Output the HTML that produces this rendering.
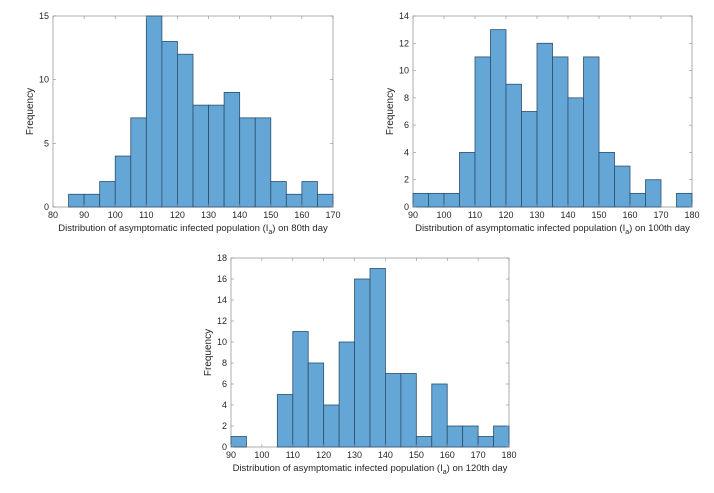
<!DOCTYPE html>
<html><head><meta charset="utf-8"><style>
body{margin:0;background:#fff;width:714px;height:488px;overflow:hidden}
svg text{font-family:"Liberation Sans",sans-serif;fill:#262626}
</style></head><body>
<svg id="s" width="714" height="488"></svg>
<script>
const edges1 = [85,90,95,100,105,110,115,120,125,130,135,140,145,150,155,160,165,170];
const counts1 = [1,1,2,4,7,15,13,12,8,8,9,7,7,2,1,2,1];
const xticks1 = [80,90,100,110,120,130,140,150,160,170];
const yticks1 = [0,5,10,15];
const edges2 = [90,95,100,105,110,115,120,125,130,135,140,145,150,155,160,165,170,175,180];
const counts2 = [1,1,1,4,11,13,9,7,12,11,8,11,4,3,1,2,0,1];
const xticks2 = [90,100,110,120,130,140,150,160,170,180];
const yticks2 = [0,2,4,6,8,10,12,14];
const edges3 = [90,95,100,105,110,115,120,125,130,135,140,145,150,155,160,165,170,175,180];
const counts3 = [1,0,0,5,11,8,4,10,16,17,7,7,1,6,2,2,1,2];
const xticks3 = [90,100,110,120,130,140,150,160,170,180];
const yticks3 = [0,2,4,6,8,10,12,14,16,18];
const NS="http://www.w3.org/2000/svg";
const svg=document.getElementById('s');
function mk(t,a,p){const e=document.createElementNS(NS,t);for(const k in a)e.setAttribute(k,a[k]);(p||svg).appendChild(e);return e;}
function chart(id,L,R,T,B,edges,counts,xt,yt,day){
  const g=mk('g',{});
  
  
  const x0=xt[0],x1=xt[xt.length-1],y1=yt[yt.length-1];
  const X=v=>L+(v-x0)/(x1-x0)*(R-L), Y=v=>B-v/y1*(B-T);
  mk('rect',{x:L,y:T,width:R-L,height:B-T,fill:'#fff',stroke:'#8a8a8a','stroke-width':0.7},g);
  for(let i=0;i<counts.length;i++){
    if(counts[i]<=0)continue;
    const r=mk('rect',{x:X(edges[i]),y:Y(counts[i]),width:X(edges[i+1])-X(edges[i]),height:B-Y(counts[i]),fill:'#64a6d6',stroke:'#2b4f6e','stroke-width':0.8},g);
    
    
  }
  xt.forEach(v=>{mk('line',{x1:X(v),x2:X(v),y1:B,y2:B-3,stroke:'#8a8a8a','stroke-width':0.6},g);mk('line',{x1:X(v),x2:X(v),y1:T,y2:T+3,stroke:'#8a8a8a','stroke-width':0.6},g);
    const t=mk('text',{x:X(v),y:B+11,'text-anchor':'middle','font-size':9},g);t.textContent=v;
    });
  yt.forEach(v=>{mk('line',{x1:L,x2:L+3,y1:Y(v),y2:Y(v),stroke:'#8a8a8a','stroke-width':0.6},g);mk('line',{x1:R,x2:R-3,y1:Y(v),y2:Y(v),stroke:'#8a8a8a','stroke-width':0.6},g);
    const t=mk('text',{x:L-4,y:Y(v)+3,'text-anchor':'end','font-size':9},g);t.textContent=v;
    });
  const xl=mk('text',{x:(L+R)/2,y:B+24,'text-anchor':'middle','font-size':9.5},g);
  xl.innerHTML='Distribution of asymptomatic infected population (I<tspan font-size="7" dy="3">a</tspan><tspan dy="-3">) on '+day+'th day</tspan>';
  
  const yl=mk('text',{x:0,y:0,'text-anchor':'middle','font-size':10,transform:`translate(${L-20},${(T+B)/2}) rotate(-90)`},g);
  yl.textContent='Frequency';
  
}
chart('80th-day',53,333,16,207,edges1,counts1,xticks1,yticks1,'80');
chart('100th-day',413,692,16,207,edges2,counts2,xticks2,yticks2,'100');
chart('120th-day',231,509,258,447,edges3,counts3,xticks3,yticks3,'120');
</script>
</body></html>
